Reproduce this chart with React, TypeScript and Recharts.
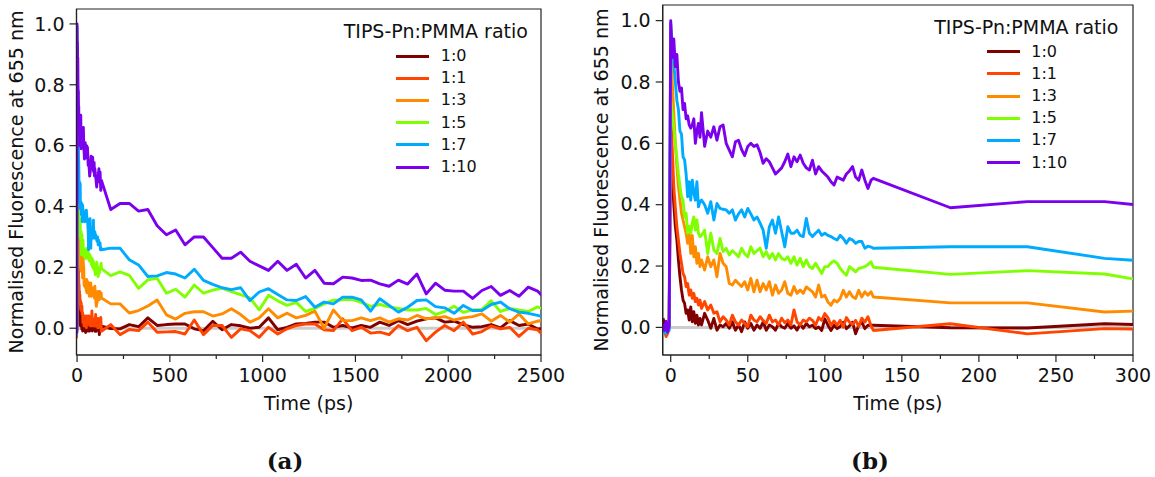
import React from 'react';
import { LineChart, Line, XAxis, YAxis, ReferenceLine, ReferenceArea, Legend } from 'recharts';

const FONT = '"DejaVu Sans", sans-serif';

const ratioLabels = ['1:0', '1:1', '1:3', '1:5', '1:7', '1:10'];
const ratioColors = ['#800000', '#ff4500', '#ff8c00', '#7fff00', '#00aaff', '#7b00ee'];

// dense sampling around the excitation pulse (ps)
const denseTime = [
  -5, -4, -3, -2, -1,
  0, 1, 2, 3, 4, 5, 6, 7, 8, 9,
  10, 11, 12, 13, 14, 15, 16, 17, 18, 19,
  20, 22, 24, 26, 28, 30, 32, 34, 36, 38,
  40, 42, 44, 46, 48, 50, 52, 54, 56, 58,
  60, 62, 64, 66, 68, 70, 72, 74, 76, 78,
  80, 82, 84, 86, 88, 90, 92, 94, 96, 98,
  100, 102, 104, 106, 108, 110, 112, 114, 116, 118,
  120, 122, 124, 126, 128, 130,
];

// sparse tail (ps)
const sparseTime = [
  131.5, 181.5, 231.5, 281.5, 331.5, 381.5, 431.5, 481.5, 531.5, 581.5,
  631.5, 681.5, 731.5, 781.5, 831.5, 881.5, 931.5, 981.5, 1031.5, 1081.5,
  1131.5, 1181.5, 1231.5, 1281.5, 1331.5, 1381.5, 1431.5, 1481.5, 1531.5, 1581.5,
  1631.5, 1681.5, 1731.5, 1781.5, 1831.5, 1881.5, 1931.5, 1981.5, 2031.5, 2081.5,
  2131.5, 2181.5, 2231.5, 2281.5, 2331.5, 2381.5, 2431.5, 2481.5, 2531.5,
];

const denseR0 = [
  0.03, 0.01, 0.0, 0.01, 0.005,
  0.62, 0.5, 0.4, 0.33, 0.285, 0.22, 0.165, 0.122, 0.089, 0.078,
  0.046, 0.057, 0.024, 0.067, 0.018, 0.051, 0.013, 0.04, 0.008, 0.029,
  0.008, 0.046, 0.024, -0.003, 0.029, -0.009, 0.008, 0.002, 0.013, -0.003,
  0.018, -0.009, 0.008, -0.014, 0.018, -0.003, 0.013, -0.009, 0.008, -0.003,
  0.018, -0.009, 0.008, 0.002, -0.009, 0.013, 0.002, -0.003, 0.013, -0.003,
  0.005, -0.009, 0.011, -0.003, 0.013, 0.002, 0.007, -0.004, 0.001, -0.01,
  0.028, 0.007, -0.01, 0.007, -0.004, 0.003, 0.017, -0.004, 0.005, 0.017,
  -0.021, 0.007, 0.017, -0.004, 0.007, 0.007,
];
const denseR1 = [
  0.0, -0.01, -0.03, -0.02, 0.0,
  0.71, 0.58, 0.46, 0.39, 0.328, 0.285, 0.241, 0.209, 0.176, 0.165,
  0.133, 0.143, 0.105, 0.122, 0.095, 0.111, 0.084, 0.095, 0.073, 0.089,
  0.062, 0.084, 0.057, 0.073, 0.046, 0.051, 0.018, 0.035, 0.024, 0.008,
  0.04, 0.018, 0.008, 0.024, 0.013, 0.002, 0.04, 0.024, 0.018, 0.035,
  0.022, 0.013, 0.04, 0.018, 0.024, 0.008, 0.03, 0.015, 0.024, 0.008,
  0.057, 0.018, 0.008, 0.024, 0.018, 0.03, 0.023, 0.007, 0.032, 0.023,
  0.045, 0.032, 0.007, 0.021, 0.007, 0.023, 0.001, 0.032, 0.017, 0.01,
  0.023, 0.003, 0.03, 0.017, 0.035, 0.005,
];
const denseR3 = [
  0.0, -0.005, 0.005, -0.01, 0.0,
  0.94, 0.8, 0.7, 0.6, 0.524, 0.46, 0.415, 0.372, 0.35, 0.328,
  0.307, 0.274, 0.307, 0.241, 0.3, 0.23, 0.263, 0.209, 0.241, 0.198,
  0.22, 0.187, 0.23, 0.198, 0.22, 0.165, 0.241, 0.209, 0.198, 0.143,
  0.138, 0.154, 0.143, 0.133, 0.149, 0.122, 0.16, 0.116, 0.154, 0.116,
  0.143, 0.122, 0.149, 0.105, 0.138, 0.111, 0.122, 0.149, 0.111, 0.105,
  0.133, 0.111, 0.122, 0.111, 0.132, 0.124, 0.116, 0.099, 0.138, 0.099,
  0.105, 0.083, 0.072, 0.089, 0.083, 0.094, 0.121, 0.099, 0.116, 0.1,
  0.094, 0.121, 0.099, 0.116, 0.105, 0.116,
];
const denseR5 = [
  0.0, 0.005, -0.01, 0.0, 0.005,
  0.74, 0.7, 0.65, 0.6, 0.55, 0.5, 0.46, 0.426, 0.415, 0.36,
  0.372, 0.307, 0.33, 0.307, 0.34, 0.36, 0.317, 0.35, 0.307, 0.296,
  0.3, 0.317, 0.241, 0.307, 0.252, 0.241, 0.29, 0.247, 0.258, 0.236,
  0.25, 0.241, 0.23, 0.258, 0.24, 0.23, 0.263, 0.241, 0.25, 0.258,
  0.23, 0.247, 0.225, 0.241, 0.22, 0.241, 0.225, 0.22, 0.23, 0.209,
  0.23, 0.203, 0.225, 0.198, 0.22, 0.198, 0.192, 0.209, 0.192, 0.176,
  0.198, 0.198, 0.21, 0.217, 0.209, 0.192, 0.18, 0.17, 0.198, 0.19,
  0.181, 0.192, 0.195, 0.198, 0.205, 0.214,
];
const denseR7 = [
  0.005, -0.015, -0.02, 0.01, -0.01,
  0.99, 0.92, 0.86, 0.8, 0.74, 0.71, 0.64, 0.63, 0.556, 0.546,
  0.5, 0.426, 0.475, 0.415, 0.48, 0.44, 0.415, 0.475, 0.393, 0.41,
  0.415, 0.4, 0.372, 0.41, 0.35, 0.404, 0.388, 0.385, 0.383, 0.372,
  0.383, 0.35, 0.37, 0.383, 0.36, 0.388, 0.37, 0.35, 0.36, 0.34,
  0.317, 0.258, 0.328, 0.35, 0.307, 0.36, 0.312, 0.263, 0.328, 0.307,
  0.307, 0.317, 0.3, 0.296, 0.355, 0.307, 0.296, 0.307, 0.317, 0.3,
  0.307, 0.3, 0.296, 0.29, 0.285, 0.3, 0.29, 0.274, 0.29, 0.285,
  0.274, 0.28, 0.28, 0.258, 0.265, 0.262,
];
const denseR10 = [
  0.01, -0.01, 0.02, -0.015, 0.005,
  1.0, 0.88, 0.94, 0.85, 0.89, 0.8, 0.77, 0.78, 0.71, 0.73,
  0.68, 0.69, 0.66, 0.65, 0.66, 0.68, 0.6, 0.64, 0.665, 0.62,
  0.7, 0.59, 0.64, 0.62, 0.654, 0.61, 0.654, 0.66, 0.6, 0.578,
  0.556, 0.605, 0.61, 0.58, 0.56, 0.59, 0.6, 0.59, 0.595, 0.57,
  0.535, 0.55, 0.54, 0.52, 0.5, 0.51, 0.52, 0.54, 0.565, 0.524,
  0.556, 0.54, 0.562, 0.535, 0.52, 0.513, 0.545, 0.5, 0.524, 0.51,
  0.5, 0.49, 0.475, 0.464, 0.49, 0.485, 0.48, 0.5, 0.51, 0.524,
  0.49, 0.48, 0.513, 0.48, 0.453, 0.48,
];

const sparseR0 = [
  0.007, -0.001, -0.002, 0.012, 0.005, 0.034, 0.009, 0.012, 0.014, 0.014,
  -0.002, -0.008, 0.023, -0.005, 0.012, 0.008, 0.0, 0.003, 0.034, -0.005,
  0.003, 0.014, 0.016, 0.02, 0.02, 0.003, 0.009, 0.001, 0.009, 0.003,
  0.02, 0.009, 0.025, 0.012, 0.023, 0.031, 0.034, 0.02, 0.023, 0.012,
  0.003, 0.005, 0.012, 0.001, 0.025, 0.009, 0.014, -0.003, 0.003,
];
const sparseR1 = [
  -0.01, 0.012, -0.021, -0.004, -0.008, 0.02, -0.013, -0.012, -0.011, -0.019,
  0.027, -0.021, 0.009, 0.009, -0.03, -0.002, -0.008, -0.03, 0.003, -0.019,
  -0.002, 0.009, 0.014, 0.014, -0.005, -0.008, 0.031, -0.008, 0.003, -0.016,
  -0.013, -0.021, 0.009, -0.008, 0.003, -0.041, -0.013, 0.009, -0.008, 0.02,
  -0.019, -0.011, 0.007, -0.002, 0.003, -0.027, 0.0, -0.005, -0.035,
];
const sparseR3 = [
  0.099, 0.08, 0.08, 0.05, 0.058, 0.073, 0.093, 0.044, 0.03, 0.049,
  0.054, 0.054, 0.04, 0.047, 0.064, 0.045, 0.02, 0.034, 0.064, 0.034,
  0.049, 0.034, 0.042, 0.056, 0.0, 0.06, 0.025, 0.025, 0.034, 0.025,
  0.034, 0.02, 0.031, 0.027, 0.042, 0.031, 0.034, 0.038, 0.027, 0.034,
  0.038, 0.047, 0.023, 0.042, 0.02, 0.047, 0.014, 0.023, 0.03,
];
const sparseR5 = [
  0.196, 0.173, 0.185, 0.174, 0.131, 0.159, 0.164, 0.115, 0.128, 0.102,
  0.142, 0.115, 0.125, 0.132, 0.12, 0.11, 0.1, 0.06, 0.108, 0.09,
  0.075, 0.085, 0.055, 0.065, 0.08, 0.092, 0.093, 0.095, 0.085, 0.072,
  0.078, 0.07, 0.065, 0.06, 0.06, 0.065, 0.045, 0.055, 0.072, 0.052,
  0.06, 0.062, 0.09, 0.055, 0.065, 0.06, 0.055, 0.07, 0.058,
];
const sparseR7 = [
  0.258, 0.263, 0.263, 0.225, 0.208, 0.17, 0.172, 0.183, 0.178, 0.165,
  0.194, 0.157, 0.144, 0.133, 0.127, 0.133, 0.091, 0.119, 0.13, 0.111,
  0.093, 0.091, 0.104, 0.069, 0.086, 0.08, 0.102, 0.102, 0.093, 0.056,
  0.097, 0.075, 0.053, 0.069, 0.091, 0.093, 0.071, 0.067, 0.049, 0.075,
  0.058, 0.058, 0.078, 0.086, 0.064, 0.053, 0.049, 0.042, 0.035,
];
const sparseR10 = [
  0.486, 0.39, 0.41, 0.41, 0.385, 0.39, 0.337, 0.307, 0.323, 0.274,
  0.3, 0.3, 0.265, 0.23, 0.23, 0.25, 0.22, 0.205, 0.19, 0.22,
  0.19, 0.21, 0.165, 0.19, 0.148, 0.146, 0.168, 0.165, 0.157, 0.158,
  0.146, 0.138, 0.158, 0.145, 0.178, 0.113, 0.148, 0.125, 0.122, 0.122,
  0.098, 0.124, 0.137, 0.108, 0.124, 0.105, 0.135, 0.122, 0.09,
];

const yTicks = [0, 0.2, 0.4, 0.6, 0.8, 1.0];
const xTicksA = [0, 250, 500, 750, 1000, 1250, 1500, 1750, 2000, 2250, 2500];
const xTicksB = [0, 25, 50, 75, 100, 125, 150, 175, 200, 225, 250, 275, 300];

type Pt = { t: number; v: number };
const buildPoints = (dense: number[], sparse: number[]): Pt[] => [
  ...denseTime.map((t, i) => ({ t, v: dense[i] })),
  ...sparseTime.map((t, i) => ({ t, v: sparse[i] })),
];

const denseAll = [denseR0, denseR1, denseR3, denseR5, denseR7, denseR10];
const sparseAll = [sparseR0, sparseR1, sparseR3, sparseR5, sparseR7, sparseR10];
const series = ratioLabels.map((name, i) => ({
  name,
  color: ratioColors[i],
  points: buildPoints(denseAll[i], sparseAll[i]),
}));

const makeXTick = (majorStep: number) => (props: any) => {
  const { x, y, payload } = props;
  const val = payload.value;
  const major = Math.abs(val % majorStep) < 1e-6;
  return (
    <g>
      <line x1={x} y1={y} x2={x} y2={y + (major ? 7 : 4)} stroke="#222" strokeWidth={1.2} />
      {major && (
        <text x={x} y={y + 14} dy="0.71em" textAnchor="middle" fontSize={19} fontFamily={FONT} fill="#111">
          {val}
        </text>
      )}
    </g>
  );
};

const LegendBox = () => (
  <div style={{ position: 'relative', width: 200, height: 170, fontFamily: FONT, color: '#111' }}>
    <div style={{ position: 'absolute', left: 0, top: 0, width: 200, height: 24, lineHeight: '24px', textAlign: 'center', fontSize: 19, whiteSpace: 'nowrap' }}>
      TIPS-Pn:PMMA ratio
    </div>
    {series.map((s, i) => {
      const cy = 37 + 22.2 * i;
      return (
        <React.Fragment key={s.name}>
          <div style={{ position: 'absolute', left: 60.3, top: cy - 1.5, width: 33, height: 3, background: s.color }} />
          <div style={{ position: 'absolute', left: 105, top: cy - 11, height: 22, lineHeight: '22px', fontSize: 16 }}>{s.name}</div>
        </React.Fragment>
      );
    })}
  </div>
);

type PanelCfg = {
  left: number;
  width: number;
  plotLeft: number;
  plotRight: number;
  plotTop: number;
  plotBottom: number;
  xDomain: [number, number];
  yDomain: [number, number];
  xTicks: number[];
  majorStep: number;
  legendCx: number;
  legendCy: number;
  yLabelX: number;
  tag: string;
  tagCx: number;
};

const CHART_H = 477;
const X_AXIS_H = 60;

const Panel = ({ cfg }: { cfg: PanelCfg }) => {
  const midY = (cfg.plotTop + cfg.plotBottom) / 2;
  const midX = (cfg.plotLeft + cfg.plotRight) / 2;
  return (
    <div style={{ position: 'absolute', left: cfg.left, top: 0, width: cfg.width, height: CHART_H }}>
      <LineChart
        width={cfg.width}
        height={CHART_H}
        margin={{ top: cfg.plotTop, right: cfg.width - cfg.plotRight, bottom: CHART_H - cfg.plotBottom - X_AXIS_H, left: 0 }}
      >
        <XAxis
          dataKey="t"
          type="number"
          domain={cfg.xDomain}
          allowDataOverflow
          ticks={cfg.xTicks}
          interval={0}
          height={X_AXIS_H}
          tickSize={0}
          tickMargin={0}
          tickLine={false}
          axisLine={{ stroke: '#222', strokeWidth: 1.2 }}
          tick={makeXTick(cfg.majorStep)}
          label={() => (
            <text x={midX} y={409.5} textAnchor="middle" fontSize={19} fontFamily={FONT} fill="#111">
              Time (ps)
            </text>
          )}
        />
        <YAxis
          type="number"
          domain={cfg.yDomain}
          allowDataOverflow
          ticks={yTicks}
          interval={0}
          width={cfg.plotLeft}
          tickSize={7}
          tickMargin={5}
          tickFormatter={(v: number) => v.toFixed(1)}
          tick={{ fontSize: 19, fontFamily: FONT, fill: '#111' }}
          tickLine={{ stroke: '#222', strokeWidth: 1.2 }}
          axisLine={{ stroke: '#222', strokeWidth: 1.2 }}
          label={() => (
            <text
              x={cfg.yLabelX}
              y={midY}
              transform={`rotate(-90, ${cfg.yLabelX}, ${midY})`}
              textAnchor="middle"
              fontSize={19}
              fontFamily={FONT}
              fill="#111"
            >
              Normalised Fluorescence at 655 nm
            </text>
          )}
        />
        <ReferenceLine y={0} stroke="#cccccc" strokeWidth={3} />
        {series.map((s) => (
          <Line
            key={s.name}
            data={s.points}
            dataKey="v"
            name={s.name}
            type="linear"
            stroke={s.color}
            strokeWidth={2.9}
            strokeLinejoin="round"
            dot={false}
            activeDot={false}
            isAnimationActive={false}
          />
        ))}
        <ReferenceArea
          x1={cfg.xDomain[0]}
          x2={cfg.xDomain[1]}
          y1={cfg.yDomain[0]}
          y2={cfg.yDomain[1]}
          fill="none"
          fillOpacity={0}
          stroke="#222"
          strokeWidth={1.2}
          ifOverflow="visible"
        />
        <Legend
          layout="vertical"
          align="center"
          verticalAlign="middle"
          wrapperStyle={{ left: cfg.legendCx - 100, top: cfg.legendCy - 12, width: 200, height: 170 }}
          content={() => <LegendBox />}
        />
      </LineChart>
      <div
        style={{
          position: 'absolute',
          left: cfg.tagCx - 50,
          top: 446,
          width: 100,
          height: 30,
          lineHeight: '30px',
          textAlign: 'center',
          fontFamily: '"DejaVu Serif", serif',
          fontWeight: 'bold',
          fontSize: 23,
          color: '#111',
        }}
      >
        {cfg.tag}
      </div>
    </div>
  );
};

const panelA: PanelCfg = {
  left: 0,
  width: 575,
  plotLeft: 76.5,
  plotRight: 541,
  plotTop: 9,
  plotBottom: 355,
  xDomain: [-3, 2500],
  yDomain: [-0.088, 1.049],
  xTicks: xTicksA,
  majorStep: 500,
  legendCx: 435.8,
  legendCy: 31,
  yLabelX: 23,
  tag: '(a)',
  tagCx: 285,
};

const panelB: PanelCfg = {
  left: 580,
  width: 575,
  plotLeft: 82.7,
  plotRight: 553,
  plotTop: 5,
  plotBottom: 355,
  xDomain: [-5.2, 300],
  yDomain: [-0.09, 1.051],
  xTicks: xTicksB,
  majorStep: 50,
  legendCx: 446.3,
  legendCy: 26.7,
  yLabelX: 28.3,
  tag: '(b)',
  tagCx: 290,
};

export default function App() {
  return (
    <div style={{ position: 'absolute', left: 0, top: 0, width: 1155, height: 477, background: '#fff' }}>
      <Panel cfg={panelA} />
      <Panel cfg={panelB} />
    </div>
  );
}
